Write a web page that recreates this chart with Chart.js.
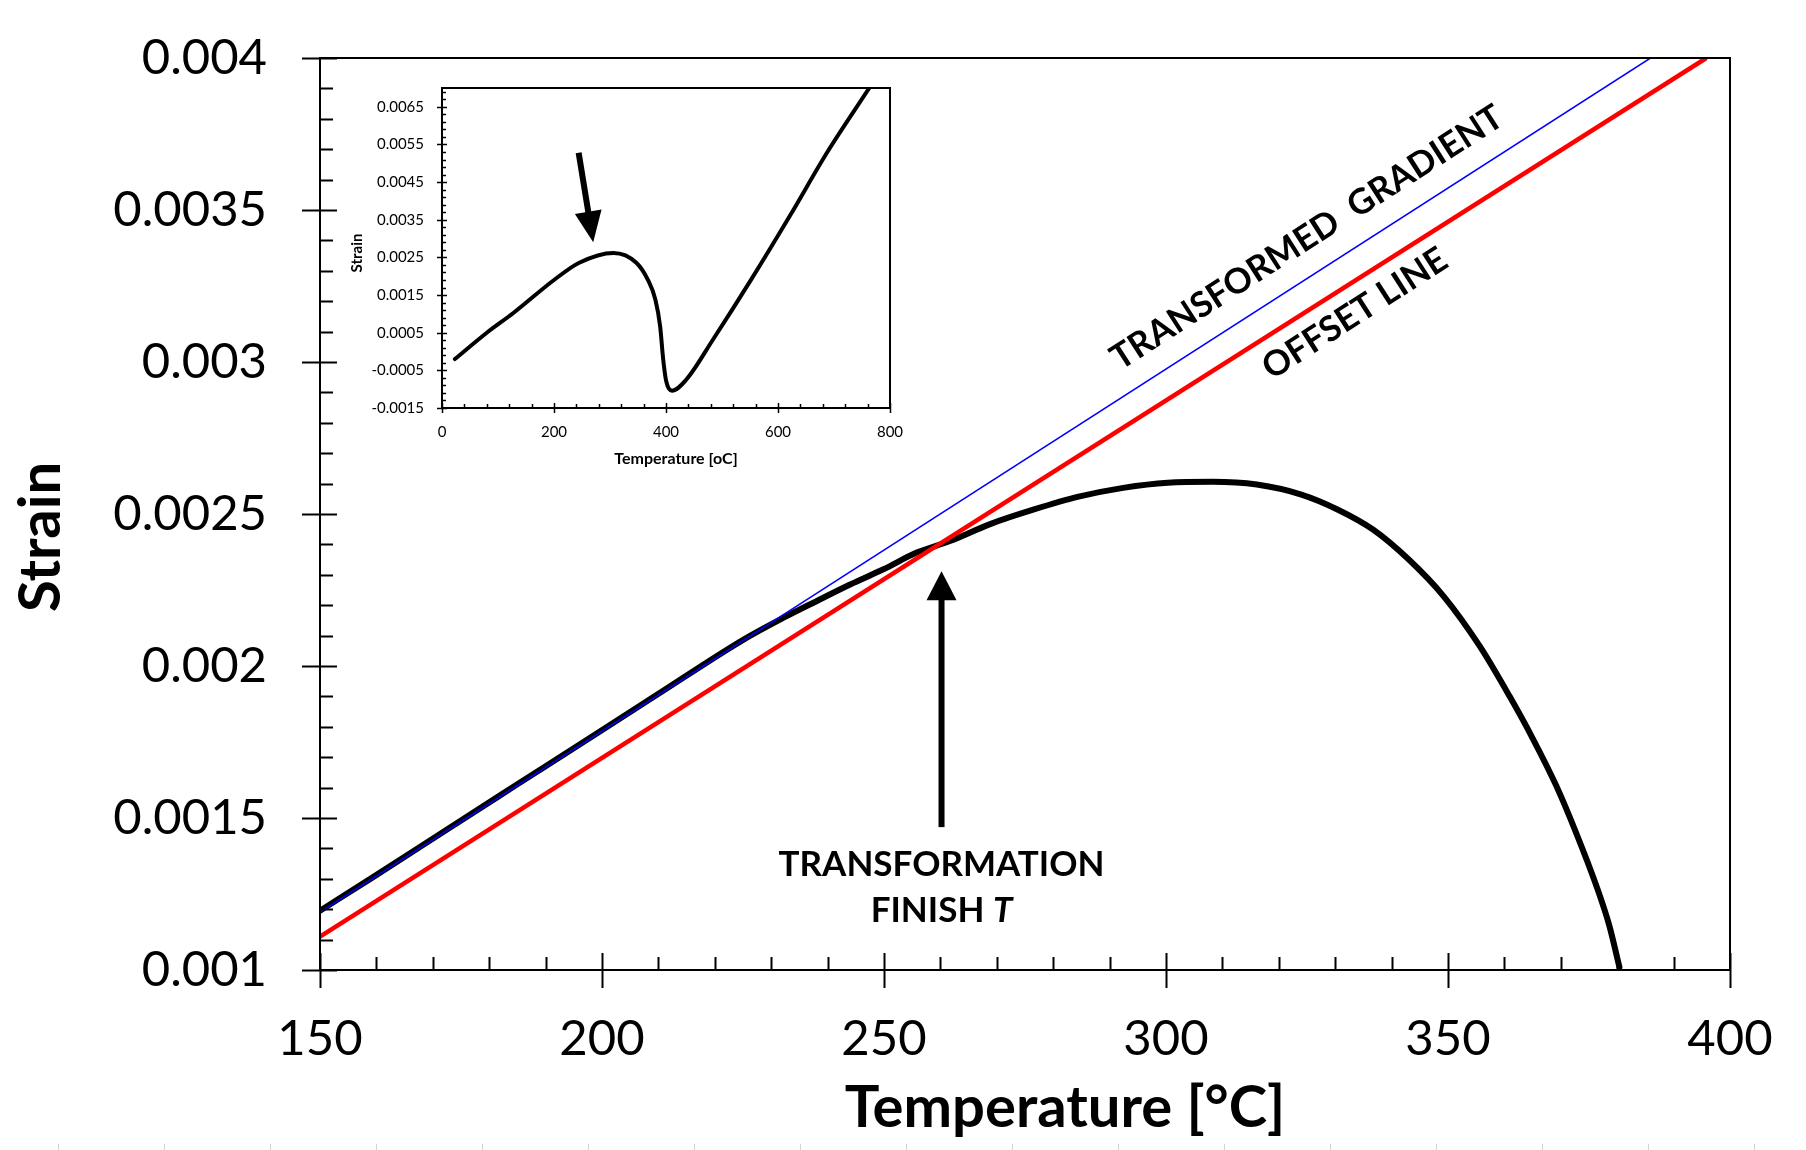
<!DOCTYPE html>
<html>
<head>
<meta charset="utf-8">
<title>Strain vs Temperature</title>
<script src="https://cdn.jsdelivr.net/npm/chart.js@4.4.1/dist/chart.umd.min.js"></script>
<style>
  html, body { margin: 0; padding: 0; background: #fff; }
  #wrap { position: relative; width: 1806px; height: 1150px; overflow: hidden; }
  #mainChart { position: absolute; left: 0; top: 0; }
  #insetChart { position: absolute; left: 330px; top: 75px; }
</style>
</head>
<body>
<div id="wrap">
  <canvas id="mainChart" width="1806" height="1150"></canvas>
  <canvas id="insetChart" width="600" height="400"></canvas>
</div>
<script>
// Main plot: measured strain on heating, 150-400 C
const tempMain = [150, 159.2, 171.9, 184.5, 197.2, 209.8, 225.1, 232.2, 238.1, 244.0,
  249.9, 255.8, 261.7, 268.7, 276.6, 284.5, 292.4, 300.3, 308.2, 316.1,
  324.0, 330.4, 336.7, 343.0, 349.2, 355.6, 360.9, 365.1, 369.2, 372.7,
  376.3, 378.6, 380.4];
const strainMain = [0.001195, 0.001303, 0.001455, 0.001605, 0.001756, 0.001906, 0.002087, 0.002159, 0.002214, 0.002268,
  0.002318, 0.002373, 0.002411, 0.002466, 0.002515, 0.002557, 0.002586, 0.002603, 0.002606, 0.002597,
  0.002564, 0.002515, 0.002449, 0.002351, 0.00223, 0.002066, 0.001901, 0.001759, 0.001606, 0.001452,
  0.001277, 0.001146, 0.001009];

// fitted gradient (blue) and offset line (red)
const gradientTemp = [150, 385.9];
const gradientStrain = [0.00119, 0.004];
const offsetTemp = [150, 395.8];
const offsetStrain = [0.00111, 0.004];

const xTicksMain = [150, 200, 250, 300, 350, 400];
const yTicksMain = [0.001, 0.0015, 0.002, 0.0025, 0.003, 0.0035, 0.004];

// Inset: full heating curve 0-800 C
const tempInset = [23, 80, 128, 200, 245, 306, 347, 367.5, 381, 389.5,
  395, 400.4, 410.7, 436, 484, 552, 621, 689, 763];
const strainInset = [-0.0002, 0.0005, 0.00103, 0.0019, 0.00236, 0.00262, 0.00236, 0.00191, 0.00138, 0.00067,
  -0.00021, -0.00079, -0.00104, -0.00075, 0.00032, 0.00191, 0.0036, 0.00532, 0.007];

const xTicksInset = [0, 200, 400, 600, 800];
const yTicksInset = [-0.0015, -0.0005, 0.0005, 0.0015, 0.0025, 0.0035, 0.0045, 0.0055, 0.0065];

// annotation anchors (data units)
const finishArrow = { t: 260.2, from: 0.00147, to: 0.002312 };
const finishLabel = { t: 260.2, line1: 0.00131, line2: 0.001157 };
const gradientLabel = { t: 325.0, s: 0.003409 };
const offsetLabel = { t: 333.5, s: 0.003159 };
const insetArrow = { t1: 244, s1: 0.00528, t2: 270, s2: 0.0029 };

const FONT = 'Lato';

function toXY(xs, ys) {
  return xs.map((x, i) => ({ x: x, y: ys[i] }));
}

function fmt(v) {
  return String(parseFloat(Number(v).toFixed(4)));
}

// keep label overhang from pushing the plot area around
function noScalePadding(s) {
  s.paddingTop = 0;
  s.paddingBottom = 0;
  s.paddingLeft = 0;
  s.paddingRight = 0;
}

function drawArrow(ctx, x1, y1, x2, y2, headLen, headW, shaftW) {
  const ang = Math.atan2(y2 - y1, x2 - x1);
  const len = Math.hypot(x2 - x1, y2 - y1);
  ctx.save();
  ctx.translate(x1, y1);
  ctx.rotate(ang);
  ctx.fillStyle = '#000';
  ctx.fillRect(0, -shaftW / 2, len - headLen + 1, shaftW);
  ctx.beginPath();
  ctx.moveTo(len, 0);
  ctx.lineTo(len - headLen, -headW / 2);
  ctx.lineTo(len - headLen, headW / 2);
  ctx.closePath();
  ctx.fill();
  ctx.restore();
}

// box, crossing major ticks and inside minor ticks
function drawFrame(chart, o) {
  const { ctx, chartArea: a, scales: { x, y } } = chart;
  ctx.save();
  ctx.strokeStyle = '#000';
  ctx.lineWidth = o.tickW;
  ctx.beginPath();
  let n = Math.round((x.max - x.min) / o.xMinor);
  for (let i = 1; i < n; i++) {
    const px = Math.round(x.getPixelForValue(x.min + i * o.xMinor)) + 0.5;
    ctx.moveTo(px, a.bottom);
    ctx.lineTo(px, a.bottom - o.minorIn);
  }
  o.xMajor.forEach(v => {
    const px = Math.round(x.getPixelForValue(v)) + 0.5;
    ctx.moveTo(px, a.bottom + o.majorOut);
    ctx.lineTo(px, a.bottom - o.majorIn);
  });
  n = Math.round((y.max - y.min) / o.yMinor);
  for (let i = 1; i < n; i++) {
    const py = Math.round(y.getPixelForValue(y.min + i * o.yMinor)) + 0.5;
    ctx.moveTo(a.left, py);
    ctx.lineTo(a.left + o.minorIn, py);
  }
  o.yMajor.forEach(v => {
    const py = Math.round(y.getPixelForValue(v)) + 0.5;
    ctx.moveTo(a.left - o.majorOut, py);
    ctx.lineTo(a.left + o.majorIn, py);
  });
  ctx.stroke();
  ctx.lineWidth = o.lw;
  ctx.strokeRect(a.left, a.top, a.right - a.left, a.bottom - a.top);
  ctx.restore();
}

const mainDecor = {
  id: 'mainDecor',
  afterDraw(chart) {
    const { ctx, scales: { x, y } } = chart;
    drawFrame(chart, {
      lw: 2, tickW: 2, majorOut: 18, majorIn: 17, minorIn: 13,
      xMinor: 10, yMinor: 0.0001, xMajor: xTicksMain, yMajor: yTicksMain
    });

    // transformation finish arrow + label
    const ax = x.getPixelForValue(finishArrow.t);
    drawArrow(ctx, ax, y.getPixelForValue(finishArrow.from), ax, y.getPixelForValue(finishArrow.to), 29, 30, 6);
    ctx.save();
    ctx.fillStyle = '#000';
    ctx.textBaseline = 'alphabetic';
    ctx.textAlign = 'center';
    ctx.font = 'bold 35px ' + FONT;
    ctx.fillText('TRANSFORMATION', ax, y.getPixelForValue(finishLabel.line1));
    const wa = ctx.measureText('FINISH ').width;
    ctx.font = 'italic bold 35px ' + FONT;
    const wb = ctx.measureText('T').width;
    const sx = ax - (wa + wb) / 2;
    const ly = y.getPixelForValue(finishLabel.line2);
    ctx.textAlign = 'left';
    ctx.font = 'bold 35px ' + FONT;
    ctx.fillText('FINISH ', sx, ly);
    ctx.font = 'italic bold 35px ' + FONT;
    ctx.fillText('T', sx + wa, ly);

    // rotated labels, angle taken from the gradient line
    const gx1 = x.getPixelForValue(gradientTemp[0]), gy1 = y.getPixelForValue(gradientStrain[0]);
    const gx2 = x.getPixelForValue(gradientTemp[1]), gy2 = y.getPixelForValue(gradientStrain[1]);
    const ang = Math.atan2(gy2 - gy1, gx2 - gx1);
    ctx.textAlign = 'center';
    ctx.textBaseline = 'middle';
    ctx.font = 'bold 35px ' + FONT;
    [[gradientLabel, 'TRANSFORMED  GRADIENT'], [offsetLabel, 'OFFSET LINE']].forEach(([p, txt]) => {
      ctx.save();
      ctx.translate(x.getPixelForValue(p.t), y.getPixelForValue(p.s));
      ctx.rotate(ang);
      ctx.fillText(txt, 0, 0);
      ctx.restore();
    });

    // axis titles
    ctx.textBaseline = 'alphabetic';
    ctx.font = 'bold 58px ' + FONT;
    ctx.fillText('Temperature [\u00B0C]', 1065, 1127);
    ctx.save();
    ctx.translate(60, 537);
    ctx.rotate(-Math.PI / 2);
    ctx.fillText('Strain', 0, 0);
    ctx.restore();

    // faint marks along the bottom edge
    ctx.strokeStyle = '#d4d4d4';
    ctx.lineWidth = 1;
    ctx.beginPath();
    for (let k = 0; k < 17; k++) {
      const fx = Math.round(57.6 + k * 106) + 0.5;
      ctx.moveTo(fx, 1144);
      ctx.lineTo(fx, 1150);
    }
    ctx.stroke();
    ctx.restore();
  }
};

const insetDecor = {
  id: 'insetDecor',
  afterDraw(chart) {
    const { ctx, scales: { x, y } } = chart;
    drawFrame(chart, {
      lw: 2, tickW: 1.5, majorOut: 5, majorIn: 5, minorIn: 4,
      xMinor: 40, yMinor: 0.0002, xMajor: xTicksInset, yMajor: yTicksInset
    });
    drawArrow(ctx, x.getPixelForValue(insetArrow.t1), y.getPixelForValue(insetArrow.s1),
      x.getPixelForValue(insetArrow.t2), y.getPixelForValue(insetArrow.s2), 31, 27, 6);
    ctx.save();
    ctx.fillStyle = '#000';
    ctx.textAlign = 'center';
    ctx.textBaseline = 'alphabetic';
    ctx.font = 'bold 16px ' + FONT;
    ctx.fillText('Temperature [oC]', 346, 389);
    ctx.font = 'bold 15px ' + FONT;
    ctx.translate(32, 178);
    ctx.rotate(-Math.PI / 2);
    ctx.fillText('Strain', 0, 0);
    ctx.restore();
  }
};

new Chart(document.getElementById('mainChart'), {
  type: 'scatter',
  data: {
    datasets: [
      {
        label: 'Transformed gradient',
        data: toXY(gradientTemp, gradientStrain),
        showLine: true,
        borderColor: '#0000ff',
        borderWidth: 1.5,
        pointRadius: 0,
      },
      {
        label: 'Offset line',
        data: toXY(offsetTemp, offsetStrain),
        showLine: true,
        borderColor: '#ff0000',
        borderWidth: 4.5,
        pointRadius: 0,
      },
      {
        label: 'Strain',
        data: toXY(tempMain, strainMain),
        showLine: true,
        borderColor: '#000000',
        borderWidth: 6,
        pointRadius: 0,
        cubicInterpolationMode: 'monotone',
        borderCapStyle: 'round',
        borderJoinStyle: 'round',
      },
    ],
  },
  options: {
    responsive: false,
    animation: false,
    layout: { padding: { left: 0, top: 58, right: 76, bottom: 0 } },
    plugins: { legend: { display: false }, tooltip: { enabled: false } },
    scales: {
      x: {
        type: 'linear', min: 150, max: 400,
        grid: { display: false, drawTicks: false },
        border: { display: false },
        afterBuildTicks: (s) => { s.ticks = xTicksMain.map((v) => ({ value: v })); },
        afterFit: (s) => { s.height = 180; noScalePadding(s); },
        ticks: { padding: 40, color: '#000', font: { family: FONT, size: 49 } },
      },
      y: {
        type: 'linear', min: 0.001, max: 0.004,
        grid: { display: false, drawTicks: false },
        border: { display: false },
        afterBuildTicks: (s) => { s.ticks = yTicksMain.map((v) => ({ value: v })); },
        afterFit: (s) => { s.width = 320; noScalePadding(s); },
        ticks: { padding: 53, color: '#000', font: { family: FONT, size: 49 }, callback: fmt },
      },
    },
  },
  plugins: [mainDecor],
});

new Chart(document.getElementById('insetChart'), {
  type: 'scatter',
  data: {
    datasets: [
      {
        label: 'Strain',
        data: toXY(tempInset, strainInset),
        showLine: true,
        borderColor: '#000000',
        borderWidth: 4,
        pointRadius: 0,
        cubicInterpolationMode: 'monotone',
        borderCapStyle: 'round',
      },
    ],
  },
  options: {
    responsive: false,
    animation: false,
    layout: { padding: { left: 0, top: 13, right: 40, bottom: 0 } },
    plugins: { legend: { display: false }, tooltip: { enabled: false } },
    scales: {
      x: {
        type: 'linear', min: 0, max: 800,
        grid: { display: false, drawTicks: false },
        border: { display: false },
        afterBuildTicks: (s) => { s.ticks = xTicksInset.map((v) => ({ value: v })); },
        afterFit: (s) => { s.height = 67; noScalePadding(s); },
        ticks: { padding: 15, color: '#000', font: { family: FONT, size: 15 } },
      },
      y: {
        type: 'linear', min: -0.0015, max: 0.007,
        grid: { display: false, drawTicks: false },
        border: { display: false },
        afterBuildTicks: (s) => { s.ticks = yTicksInset.map((v) => ({ value: v })); },
        afterFit: (s) => { s.width = 112; noScalePadding(s); },
        ticks: { padding: 18, color: '#000', font: { family: FONT, size: 15 }, callback: fmt },
      },
    },
  },
  plugins: [insetDecor],
});
</script>
</body>
</html>
